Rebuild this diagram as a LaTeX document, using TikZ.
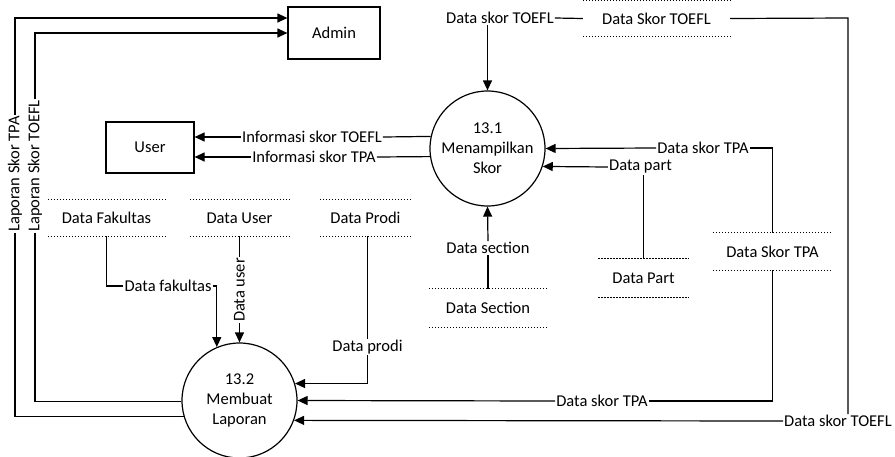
\documentclass[tikz,border=0pt]{standalone}
\usepackage{fontspec}
\setmainfont{Carlito}
\usetikzlibrary{arrows.meta}
\begin{document}
\begin{tikzpicture}[x=1pt,y=-1pt,
  every node/.style={font=\fontsize{16.5}{20}\selectfont},
  entity/.style={draw, line width=1.2pt, inner sep=0pt},
  proc/.style={circle, draw, line width=1.2pt, minimum size=115pt, inner sep=0pt, align=center},
  store/.style={inner sep=0pt, minimum height=36pt},
  dotline/.style={line width=1.2pt, dash pattern=on 1.6pt off 1.4pt},
  conn/.style={line width=1.2pt},
  flow/.style={line width=1.2pt, -{Triangle[length=10pt,width=9pt]}},
  lbl/.style={fill=white, inner sep=1pt}]
\useasboundingbox (0,0) rectangle (895,456);

% external entities
\node[entity, minimum width=92pt, minimum height=52pt] (adm) at (334,33) {Admin};
\node[entity, minimum width=88pt, minimum height=51pt] (usr) at (150,147.5) {User};

% processes
\node[proc] (p1) at (487.5,148.5) {13.1\\Menampilkan\\Skor};
\node[proc] (p2) at (239.5,400.5) {13.2\\Membuat\\Laporan};

% data stores
\node[store, minimum width=147pt, minimum height=35pt] (sT) at (656.5,18.5) {Data Skor TOEFL};
\node[store, minimum width=117pt] (sFak) at (106.5,218) {Data Fakultas};
\node[store, minimum width=99pt] (sUser) at (239.5,218) {Data User};
\node[store, minimum width=91pt] (sProdi) at (365.5,218) {Data Prodi};
\node[store, minimum width=118pt, minimum height=38pt] (sSec) at (488,308) {Data Section};
\node[store, minimum width=90pt, minimum height=38pt] (sPart) at (643.5,278) {Data Part};
\node[store, minimum width=119pt, minimum height=37pt] (sTPA) at (772.5,251.5) {Data Skor TPA};
\foreach \s in {sT,sFak,sUser,sProdi,sSec,sPart,sTPA}
  \draw[dotline] (\s.north west) -- (\s.north east) (\s.south west) -- (\s.south east);

% flow labels
\node[lbl] (lT1) at (500,18) {Data skor TOEFL};
\node[lbl] (lT2) at (838,421) {Data skor TOEFL};
\node[lbl] (lA1) at (703,148) {Data skor TPA};
\node[lbl] (lA2) at (602,401) {Data skor TPA};
\node[lbl] (lPart) at (640.5,167) {Data part};
\node[lbl] (lSec) at (488,248) {Data section};
\node[lbl] (lI1) at (312,137) {Informasi skor TOEFL};
\node[lbl] (lI2) at (314,157) {Informasi skor TPA};
\node[lbl] (lFak) at (168,286) {Data fakultas};
\node[lbl] (lProdi) at (367.5,347) {Data prodi};

\coordinate (c1) at (848,18);
\coordinate (a2) at (15,18);
\coordinate (b2) at (35,33);

% flows into 13.1
\draw[conn] (sT.west) -- (lT1.east);
\draw[flow] (lT1.south -| p1.north) -- (p1.north);
\draw[conn] (sTPA.north) |- (lA1.east);
\draw[flow] (lA1.west) -- (p1.east);
\draw[conn] (sPart.north) -- (sPart.north |- lPart.south);
\draw[flow] (lPart.west) -- (p1.-18.8);
\draw[conn] (sSec.north) -- (lSec.south);
\draw[flow] (lSec.north) -- (p1.south);

% flows out of 13.1
\draw[conn] (p1.168.5) -- (lI1.east);
\draw[flow] (lI1.west) -- (lI1.west -| usr.east);
\draw[conn] (p1.188.5) -- (lI2.east);
\draw[flow] (lI2.west) -- (lI2.west -| usr.east);

% flows into 13.2
\draw[conn] (sT.east) -- (c1) -- (c1 |- lT2.north);
\draw[flow] (lT2.west) -- (p2.-20.9);
\draw[conn] (sTPA.south) |- (lA2.east);
\draw[flow] (lA2.west) -- (p2.east);
\draw[conn] (sFak.south) |- (lFak.west);
\draw[flow] (lFak.east) -| (p2.113);
\draw[flow] (sUser.south) -- (p2.north);
\draw[conn] (lProdi.north |- sProdi.south) -- (lProdi.north);
\draw[flow] (lProdi.south) |- (p2.17.7);

% reports to Admin
\draw[flow] (p2.196.7) -| (a2) -- (a2 -| adm.west);
\draw[flow] (p2.181.5) -| (b2) -- (adm.west);

% labels set on top of their lines
\node[lbl, rotate=90] (lUser) at (239.5,290) {Data user};
\node[lbl, rotate=90, anchor=west] (lLT) at (15,233) {Laporan Skor TPA};
\node[lbl, rotate=90, anchor=west] (lLF) at (35,233) {Laporan Skor TOEFL};
\end{tikzpicture}
\end{document}
